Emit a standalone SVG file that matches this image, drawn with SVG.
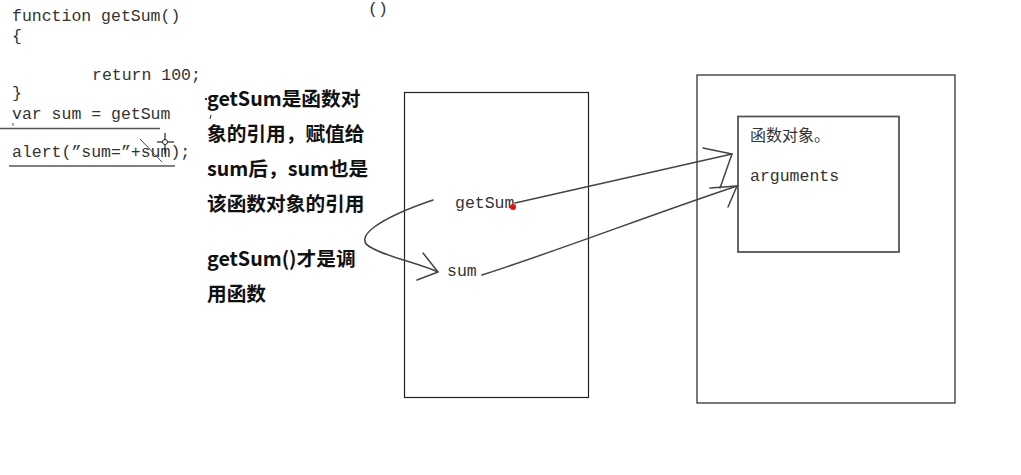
<svg xmlns="http://www.w3.org/2000/svg" width="1021" height="475" viewBox="0 0 1021 475">
<style>
.code{font-family:"Liberation Mono","Noto Sans CJK SC",monospace;font-size:16.5px;fill:#333}
.note{font-family:"Noto Sans CJK SC","Liberation Sans",sans-serif;font-size:19.7px;font-weight:bold;fill:#111}
.box{fill:none;stroke:#222;stroke-width:1.2}
.ink{fill:none;stroke:#444;stroke-width:1.5;stroke-linecap:round;stroke-linejoin:round}
.rule{stroke:#555;stroke-width:1.5}
</style>
<rect width="1021" height="475" fill="#fff"/>
<g id="code">
<text class="code" x="12" y="21">function getSum()</text>
<text class="code" x="12" y="41">{</text>
<text class="code" x="92" y="80">return 100;</text>
<text class="code" x="12" y="98">}</text>
<text class="code" x="12" y="119">var sum = getSum</text>
<line class="rule" x1="0" y1="128.5" x2="160" y2="128.5"/>
<text class="code" x="12" y="157">alert(”sum=”+sum);</text>
<line class="rule" x1="9" y1="166" x2="175" y2="166"/>
<text class="code" x="368" y="14">()</text>
<circle cx="206" cy="99" r="1.2" fill="#333"/>
<line x1="211" y1="115" x2="210" y2="119" stroke="#444" stroke-width="1.2"/>
<line x1="13" y1="123" x2="13" y2="126" stroke="#555" stroke-width="1"/>
<line x1="140" y1="139" x2="162" y2="162" stroke="#444" stroke-width="1"/>
<line x1="165" y1="133" x2="165" y2="154" stroke="#222" stroke-width="1.2"/>
<line x1="157" y1="142" x2="174" y2="142" stroke="#222" stroke-width="1.2"/>
<circle cx="165" cy="142" r="2.5" fill="#fff" stroke="#222" stroke-width="1"/>
</g>
<g id="notes">
<text class="note" x="207" y="106">getSum是函数对</text>
<text class="note" x="207" y="141">象的引用，赋值给</text>
<text class="note" x="207" y="176">sum后，sum也是</text>
<text class="note" x="207" y="211">该函数对象的引用</text>
<text class="note" x="207" y="266">getSum()才是调</text>
<text class="note" x="207" y="301">用函数</text>
</g>
<g id="stack">
<rect class="box" x="404.5" y="92.5" width="184" height="305"/>
<text class="code" x="455" y="208">getSum</text>
<text class="code" x="447" y="276">sum</text>
</g>
<g id="heap">
<rect class="box" x="697" y="75" width="258" height="328"/>
</g>
<g id="funcobj">
<rect x="738" y="116.5" width="161" height="135.5" fill="none" stroke="#555" stroke-width="1.8"/>
<text class="code" x="750" y="141" style="font-family:'Noto Sans CJK SC',sans-serif;font-size:16px">函数对象。</text>
<text class="code" x="750" y="181">arguments</text>
</g>
<g id="connectors">
<path class="ink" d="M515,203 L732,154"/>
<path class="ink" d="M703,148 L732,154 L720,188"/>
<path class="ink" d="M482,275 C560,250 650,215 737,186"/>
<path class="ink" d="M710,188 L737,186 L728,207"/>
<path class="ink" d="M433,200 C380,218 350,238 372,248 C390,258 415,262 438,272"/>
<path class="ink" d="M423,253 L438,272 L417,280"/>
<circle cx="513" cy="207" r="3" fill="#e81010"/>
</g>
</svg>
